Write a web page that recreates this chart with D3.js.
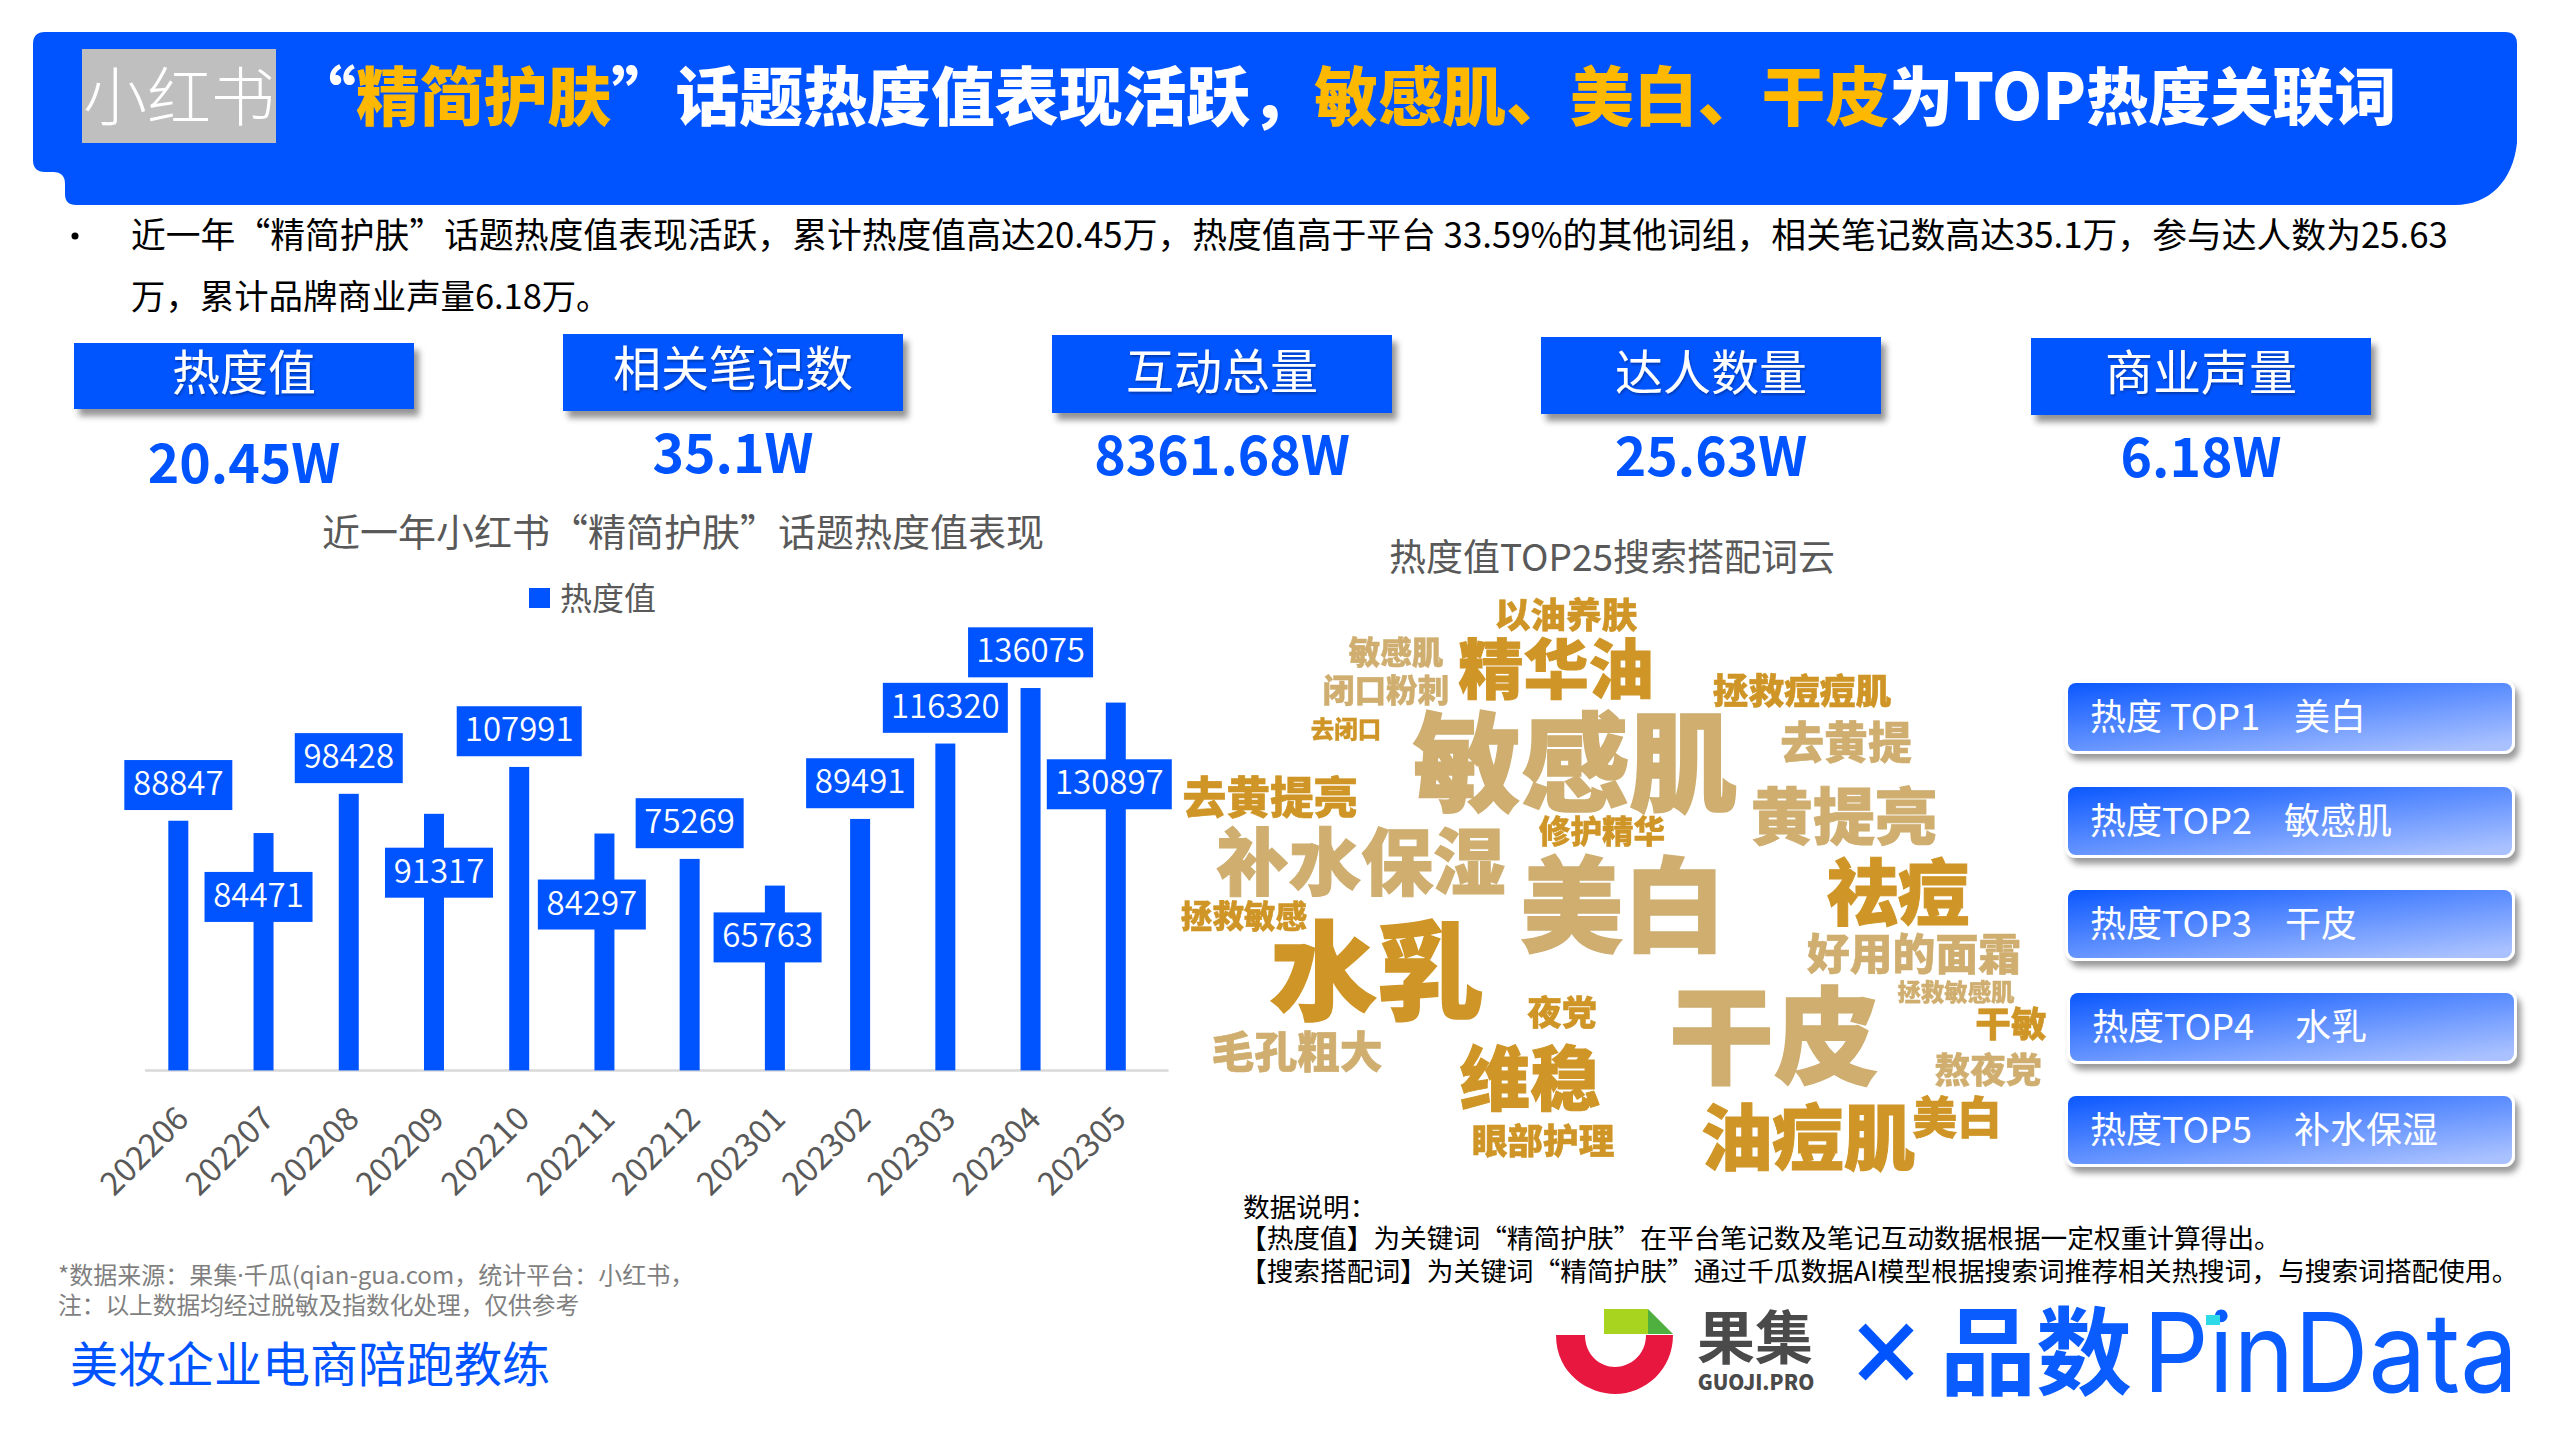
<!DOCTYPE html>
<html><head><meta charset="utf-8">
<script src="https://cdn.jsdelivr.net/npm/d3@7"></script>
<style>html,body{margin:0;padding:0;background:#fff}svg{display:block}text{font-family:"Noto Sans CJK SC","Noto Sans",sans-serif}</style>
</head><body><svg id="c" width="2560" height="1440" viewBox="0 0 2560 1440"></svg>
<script>
// ---- chart data
const months = ["202206","202207","202208","202209","202210","202211","202212","202301","202302","202303","202304","202305"];
const heat = [88847,84471,98428,91317,107991,84297,75269,65763,89491,116320,136075,130897];
const kpiNames = ["热度值","相关笔记数","互动总量","达人数量","商业声量"];
const kpiValues = ["20.45W","35.1W","8361.68W","25.63W","6.18W"];
const words = ["以油养肤","敏感肌","精华油","闭口粉刺","拯救痘痘肌","去闭口","敏感肌","去黄提","去黄提亮","黄提亮","修护精华","补水保湿","美白","祛痘","拯救敏感","水乳","好用的面霜","拯救敏感肌","干敏","夜党","干皮","毛孔粗大","熬夜党","维稳","美白","油痘肌","眼部护理"];
const wordWeights = [35,31,64,31,35,23,106,43,43,61,31,71,101,70,31,105,42,23,35,34,103,42,35,69,44,70,35];
const wordTones = [1,0,1,0,1,1,0,0,1,0,1,0,0,1,1,1,0,0,1,1,0,0,0,1,1,1,1];
const topLabels = ["热度 TOP1","热度TOP2","热度TOP3","热度TOP4","热度TOP5"];
const topWords = ["美白","敏感肌","干皮","水乳","补水保湿"];
// ---- layout (separate from data)
const labelDx = [0,-5,0,5,0,-12.6,0,-7.3,0,0,0,-6.5];
const labelDy = [0,99.6,0,94.6,0,106.7,0,87.5,0,0,0,117.4];
const kpiBox = [[74,343,340,66],[563,334,340,77],[1052,335,340,78],[1541,337,340,77],[2031,338,340,77]];
const kpiNameY = [373,369,372,373,373];
const kpiValY = [464,454,456,457,458];
const wordCx = [1566,1396,1556,1386,1802,1346,1575,1846,1270,1844,1602,1361,1623,1898,1244,1377,1914,1956,2011,1562,1774,1297,1988,1530,1957,1808,1543];
const wordCy = [615,653,670,691,691,730,764,743,798,818,832,863,907,893,917,972,955,993,1024,1013,1037,1053,1070,1080,1118,1138,1141];
const btnBox = [[2068,683],[2068,787],[2068,890],[2070,993],[2068,1096]];
const btnWordX = [2294,2284,2285,2295,2294];

const BLUE="#0054ff", GREY="#595959";
const svg=d3.select("#c");
const defs=svg.append("defs");
function shadow(id,dx,dy,sd,op){defs.append("filter").attr("id",id).attr("x","-10%").attr("y","-30%").attr("width","125%").attr("height","170%")
 .append("feDropShadow").attr("dx",dx).attr("dy",dy).attr("stdDeviation",sd).attr("flood-color","#000").attr("flood-opacity",op);}
shadow("boxS",5,7,3,.42); shadow("txtS",1,2,1,.3); shadow("btnS",4,6,3,.4);
defs.append("filter").attr("id","soft").append("feGaussianBlur").attr("stdDeviation",.7);
const gr=defs.append("linearGradient").attr("id","btnG").attr("x1",0).attr("y1",0).attr("x2",.85).attr("y2",1);
gr.append("stop").attr("offset",0).attr("stop-color","#0b58ff");
gr.append("stop").attr("offset",1).attr("stop-color","#a9c1ff");

function T(p,x,cy,s,fs,fill,o={}){return p.append("text").attr("x",x).attr("y",cy+.36*fs).attr("font-size",fs).attr("fill",fill)
 .attr("text-anchor",o.a||"start").attr("font-weight",o.w||400).text(s);}

// ---- banner
svg.append("path").attr("fill",BLUE).attr("d","M45,32 H2505 Q2517,32 2517,44 V143 C2513,180 2490,205 2455,205 H76 Q65,205 65,194 V184 Q65,172 53,172 H45 Q33,172 33,160 V44 Q33,32 45,32 Z");
svg.append("rect").attr("x",82).attr("y",49).attr("width",194).attr("height",94).attr("fill","#bfbfbf");
T(svg,179,97,"小红书",64,"#fff",{a:"middle",w:300});
const tt=svg.append("text").attr("x",292).attr("y",120).attr("font-size",63.9).attr("font-weight",900).attr("fill","#fff");
[["“","#fff"],["精简护肤","#ffb800"],["”话题热度值表现活跃，","#fff"],["敏感肌、美白、干皮","#ffb800"],["为TOP","#fff"],["热度关联词","#fff",62]].forEach(([s,c,f])=>{const sp=tt.append("tspan").attr("fill",c).text(s);if(f)sp.attr("font-size",f);});

// ---- bullet text
svg.append("circle").attr("cx",75).attr("cy",236).attr("r",3.5).attr("fill","#000");
T(svg,131,235,"近一年“精简护肤”话题热度值表现活跃，累计热度值高达20.45万，热度值高于平台 33.59%的其他词组，相关笔记数高达35.1万，参与达人数为25.63",34.8,"#000");
T(svg,131,297,"万，累计品牌商业声量6.18万。",34.4,"#000");

// ---- KPI
kpiNames.forEach((n,i)=>{const [x,y,w,h]=kpiBox[i];
 svg.append("rect").attr("x",x).attr("y",y).attr("width",w).attr("height",h).attr("fill",BLUE).attr("filter","url(#boxS)");
 T(svg,x+w/2,kpiNameY[i],n,48,"#fff",{a:"middle"}).attr("filter","url(#txtS)");
 T(svg,x+w/2,kpiValY[i],kpiValues[i],53.5,BLUE,{a:"middle",w:700});
});

// ---- bar chart
T(svg,683,532,"近一年小红书“精简护肤”话题热度值表现",38,GREY,{a:"middle"});
svg.append("rect").attr("x",529).attr("y",588).attr("width",21).attr("height",20).attr("fill",BLUE);
T(svg,560,598,"热度值",32,GREY);
const x=d3.scaleBand().domain(months).range([135.7,1158.4]);
const y=d3.scaleLinear().domain([0,160000]).range([1070.4,620.8]);
const barW=20;
const ax=svg.append("g").attr("transform","translate(0,1070.4)").call(d3.axisBottom(x).tickSize(0).tickPadding(0));
ax.select(".domain").attr("stroke","#d9d9d9").attr("stroke-width",2.5).attr("d","M145,0H1168.6");
ax.selectAll("text").attr("font-size",32.5).attr("fill",GREY).attr("text-anchor","end").attr("dy",0).attr("y",0)
  .attr("transform","translate(2,40) rotate(-45)").style("dominant-baseline","central");
const center=m=>x(m)+x.bandwidth()/2;
svg.append("g").selectAll("rect").data(months).join("rect")
 .attr("x",m=>center(m)-barW/2).attr("width",barW).attr("y",(m,i)=>y(heat[i])).attr("height",(m,i)=>y(0)-y(heat[i])).attr("fill",BLUE);
const lab=svg.append("g").selectAll("g").data(months).join("g")
 .attr("transform",(m,i)=>`translate(${center(m)+labelDx[i]},${y(heat[i])-10.7-25+labelDy[i]})`);
lab.append("rect").attr("x",(m,i)=>-(String(heat[i]).length>5?62.5:54)).attr("y",-25)
 .attr("width",(m,i)=>String(heat[i]).length>5?125:108).attr("height",50).attr("fill",BLUE);
lab.append("text").attr("text-anchor","middle").attr("y",10).attr("font-size",33).attr("font-weight",350).attr("fill","#fff").text((m,i)=>heat[i]);

// ---- word cloud
T(svg,1612,558,"热度值TOP25搜索搭配词云",37,GREY,{a:"middle"});
const fsScale=d3.scaleLinear().domain([0,106]).range([0,108]);
svg.append("g").attr("filter","url(#soft)").selectAll("text").data(words).join("text")
 .attr("x",(d,i)=>wordCx[i]).attr("y",(d,i)=>wordCy[i]+.36*fsScale(wordWeights[i])).attr("text-anchor","middle")
 .attr("font-size",(d,i)=>fsScale(wordWeights[i])).attr("font-weight",900)
 .attr("stroke",(d,i)=>wordTones[i]?"#cf9526":"#cfae70").attr("stroke-width",(d,i)=>fsScale(wordWeights[i])*.014)
 .attr("fill",(d,i)=>wordTones[i]?"#cf9526":"#cfae70").text(d=>d);

// ---- top buttons
topLabels.forEach((n,i)=>{const [bx,by]=btnBox[i];
 svg.append("rect").attr("x",bx-3).attr("y",by-3).attr("width",450).attr("height",74).attr("rx",11).attr("fill","#fff").attr("filter","url(#btnS)");
 svg.append("rect").attr("x",bx).attr("y",by).attr("width",444).attr("height",68).attr("rx",8).attr("fill","url(#btnG)");
 T(svg,bx+22,by+34,n,36,"#fff");
 T(svg,btnWordX[i],by+34,topWords[i],36,"#fff");
});

// ---- footer
const src=T(svg,58,1275.5,"",24,"#7f7f7f");
src.append("tspan").text("*数据来源：果集");
src.append("tspan").style("font-family","'Noto Sans'").text("·");
src.append("tspan").text("千瓜(qian-gua.com，统计平台：小红书，");
T(svg,58,1305.5,"注：以上数据均经过脱敏及指数化处理，仅供参考",23.7,"#7f7f7f");
T(svg,70,1365,"美妆企业电商陪跑教练",48,BLUE);
T(svg,1243,1207,"数据说明：",26.7,"#000");
T(svg,1240,1238.5,"【热度值】为关键词“精简护肤”在平台笔记数及笔记互动数据根据一定权重计算得出。",26.7,"#000");
T(svg,1240,1271,"【搜索搭配词】为关键词“精简护肤”通过千瓜数据AI模型根据搜索词推荐相关热搜词，与搜索词搭配使用。",26.7,"#000");

// ---- logos
svg.append("path").attr("fill","#e8173f").attr("d","M1556,1335 C1556,1375 1590,1394 1615,1394 C1645,1394 1673,1370 1673,1335 L1646,1335 C1646,1355 1630,1367 1615,1367 C1600,1367 1585,1355 1585,1335 Z");
svg.append("rect").attr("x",1604).attr("y",1309).attr("width",44).attr("height",25).attr("fill","#a8d420");
svg.append("path").attr("fill","#4fb040").attr("d","M1648,1309 L1673,1334 L1648,1334 Z");
T(svg,1755,1338,"果集",58,"#4a4a4a",{a:"middle",w:700});
T(svg,1756,1383,"GUOJI.PRO",20.5,"#4a4a4a",{a:"middle",w:900});
svg.append("path").attr("stroke",BLUE).attr("stroke-width",10).attr("d","M1862,1327 L1910,1377 M1910,1327 L1862,1377");
T(svg,2036,1352,"品数",96,"#0a5cff",{a:"middle",w:700});
T(svg,2143,1352,"PinData",110,"#0a5cff",{w:400}).style("font-family","Inter").attr("textLength",375).attr("lengthAdjust","spacingAndGlyphs");
svg.append("rect").attr("x",2206).attr("y",1315).attr("width",14).attr("height",10).attr("fill","#2ed9e8");
</script></body></html>
